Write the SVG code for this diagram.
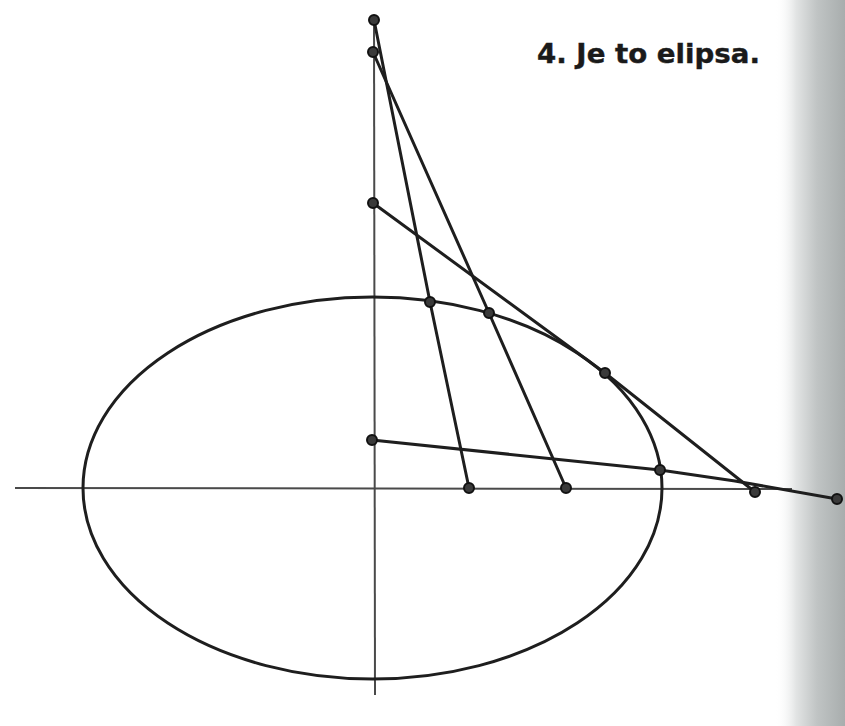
<svg xmlns="http://www.w3.org/2000/svg" width="845" height="726" viewBox="0 0 845 726">
<defs>
<linearGradient id="shade" x1="0" y1="0" x2="1" y2="0">
<stop offset="0" stop-color="#ffffff" stop-opacity="0"/>
<stop offset="0.3" stop-color="#e2e4e4"/>
<stop offset="0.6" stop-color="#c0c4c4"/>
<stop offset="1" stop-color="#a8adad"/>
</linearGradient>
<style>
.axis{stroke:#4a4a4a;stroke-width:2;fill:none}
.curve{stroke:#1e1e1e;stroke-width:3;fill:none;stroke-linejoin:round;stroke-linecap:round}
.dot{fill:#3a3a3a;stroke:#111;stroke-width:2}
.title{font-family:"DejaVu Sans",sans-serif;font-weight:bold;font-size:27px;fill:#1a1a1a;stroke:#1a1a1a;stroke-width:0.4}
</style>
</defs>
<rect width="845" height="726" fill="#ffffff"/>
<rect x="775" y="0" width="70" height="726" fill="url(#shade)"/>
<g id="axes">
<line class="axis" x1="15" y1="488" x2="792" y2="489"/>
<line class="axis" x1="374" y1="18" x2="375" y2="695"/>
</g>
<g id="ellipse">
<ellipse class="curve" cx="372.5" cy="488" rx="289.5" ry="191"/>
</g>
<g id="connectors">
<polyline class="curve" points="374,20 430,302 469,488"/>
<polyline class="curve" points="373,52 489,313 566,488"/>
<polyline class="curve" points="373,203 605,373 755,492"/>
<polyline class="curve" points="372,440 660,470 735,481 837,499"/>
</g>
<g id="points">
<circle class="dot" cx="374" cy="20" r="5"/>
<circle class="dot" cx="373" cy="52" r="5"/>
<circle class="dot" cx="373" cy="203" r="5"/>
<circle class="dot" cx="372" cy="440" r="5"/>
<circle class="dot" cx="430" cy="302" r="5"/>
<circle class="dot" cx="489" cy="313" r="5"/>
<circle class="dot" cx="605" cy="373" r="5"/>
<circle class="dot" cx="660" cy="470" r="5"/>
<circle class="dot" cx="469" cy="488" r="5"/>
<circle class="dot" cx="566" cy="488" r="5"/>
<circle class="dot" cx="755" cy="492" r="5"/>
<circle class="dot" cx="837" cy="499" r="5"/>
</g>
<g id="title">
<text class="title" x="537" y="63" textLength="223" lengthAdjust="spacingAndGlyphs">4. Je to elipsa.</text>
</g>
</svg>
